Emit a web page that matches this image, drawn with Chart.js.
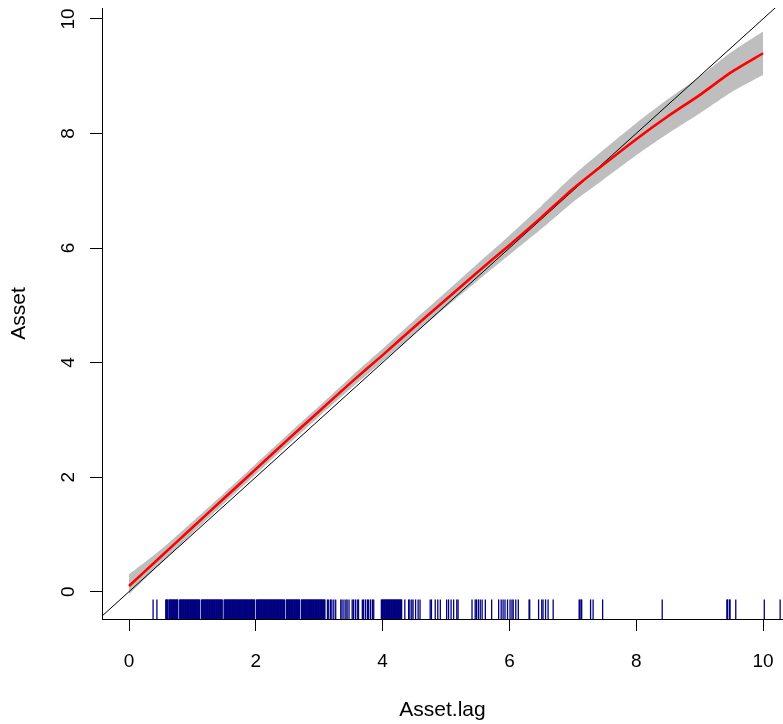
<!DOCTYPE html>
<html>
<head>
<meta charset="utf-8">
<script src="https://cdn.jsdelivr.net/npm/chart.js@4.4.1/dist/chart.umd.min.js"></script>
<style>
  html, body { margin: 0; padding: 0; background: #fff; }
  canvas { display: block; }
</style>
</head>
<body>
<canvas id="chart" width="783" height="724"></canvas>
<script>
// smooth fit of Asset against Asset.lag, with its confidence band
const fitX = [0, 0.5, 1, 1.5, 2, 2.5, 3, 3.5, 4, 4.5, 5, 5.5, 6, 6.5, 7, 7.5, 8, 8.5, 9, 9.5, 10];
const fitY = [0.10, 0.61, 1.12, 1.63, 2.14, 2.65, 3.15, 3.65, 4.13, 4.62, 5.10, 5.58, 6.05, 6.53, 7.03, 7.47, 7.90, 8.30, 8.67, 9.07, 9.40];
const bandUpper = [0.30, 0.73, 1.22, 1.72, 2.23, 2.74, 3.24, 3.75, 4.24, 4.74, 5.23, 5.73, 6.22, 6.73, 7.26, 7.73, 8.18, 8.60, 8.99, 9.42, 9.78];
const bandLower = [-0.05, 0.49, 1.02, 1.54, 2.05, 2.56, 3.06, 3.55, 4.02, 4.50, 4.97, 5.43, 5.88, 6.33, 6.80, 7.21, 7.62, 8.00, 8.35, 8.72, 9.02];

// reference line y = x
const ablineX = [-0.5, 10.5];
const ablineY = [-0.5, 10.5];

// rug of observed Asset.lag values
const rugX = [
  0.38, 0.44,
  0.58, 0.59, 0.60, 0.61, 0.63, 0.64, 0.65, 0.66, 0.67, 0.68, 0.69, 0.70, 0.71, 0.72, 0.73, 0.74, 0.75, 0.76, 0.77,
  0.80, 0.81, 0.82, 0.83, 0.84, 0.85, 0.86, 0.87, 0.88, 0.89, 0.90, 0.91, 0.92, 0.93, 0.94, 0.95, 0.96, 0.97, 0.98, 0.99,
  1.00, 1.01, 1.02, 1.03, 1.04, 1.05, 1.06, 1.07, 1.08, 1.09, 1.10, 1.11, 1.14, 1.15, 1.16, 1.17, 1.18, 1.19,
  1.20, 1.21, 1.22, 1.23, 1.24, 1.25, 1.26, 1.27, 1.28, 1.29, 1.30, 1.31, 1.32, 1.33, 1.34, 1.35, 1.36, 1.37, 1.38, 1.39,
  1.40, 1.41, 1.42, 1.43, 1.44, 1.45, 1.46, 1.47, 1.50, 1.51, 1.52, 1.53, 1.54, 1.55, 1.56, 1.57, 1.58, 1.59,
  1.60, 1.61, 1.62, 1.63, 1.64, 1.65, 1.66, 1.67, 1.68, 1.69, 1.70, 1.71, 1.72, 1.73, 1.74, 1.75, 1.76, 1.77, 1.78, 1.79,
  1.80, 1.81, 1.82, 1.83, 1.84, 1.85, 1.86, 1.87, 1.88, 1.89, 1.90, 1.91, 1.92, 1.93, 1.94, 1.95, 1.96, 1.97, 1.98,
  2.01, 2.02, 2.03, 2.04, 2.05, 2.06, 2.07, 2.08, 2.09, 2.10, 2.11, 2.12, 2.13, 2.14, 2.15, 2.16, 2.17, 2.18, 2.19,
  2.20, 2.21, 2.22, 2.23, 2.24, 2.25, 2.26, 2.27, 2.28, 2.29, 2.30, 2.31, 2.32, 2.33, 2.34, 2.35, 2.36, 2.37, 2.38, 2.39,
  2.40, 2.41, 2.42, 2.43, 2.44, 2.45, 2.48, 2.49, 2.50, 2.51, 2.52, 2.53, 2.54, 2.55, 2.56, 2.57, 2.58, 2.59,
  2.60, 2.61, 2.62, 2.63, 2.64, 2.65, 2.66, 2.67, 2.68, 2.69, 2.72, 2.73, 2.74, 2.75, 2.76, 2.77, 2.78, 2.79,
  2.80, 2.81, 2.82, 2.83, 2.84, 2.85, 2.86, 2.87, 2.88, 2.89, 2.90, 2.91, 2.92, 2.93, 2.94, 2.95, 2.96, 2.97, 2.98, 2.99,
  3.00, 3.01, 3.02, 3.03, 3.04, 3.05, 3.06, 3.07, 3.08, 3.09,
  3.13, 3.15, 3.18, 3.20, 3.23, 3.26, 3.34, 3.36, 3.39, 3.42, 3.44, 3.47, 3.52, 3.54, 3.57, 3.60, 3.62,
  3.68, 3.70, 3.73, 3.76, 3.78, 3.81, 3.84, 3.86,
  3.98, 3.99, 4.00, 4.01, 4.02, 4.03, 4.04, 4.05, 4.06, 4.07, 4.08, 4.09, 4.10, 4.11, 4.12, 4.13, 4.14, 4.15, 4.16,
  4.17, 4.18, 4.19, 4.20, 4.21, 4.22, 4.23, 4.24, 4.25, 4.26, 4.27, 4.28, 4.29, 4.30,
  4.35, 4.41, 4.43, 4.46, 4.48, 4.52, 4.56, 4.59, 4.75, 4.77, 4.83, 4.87, 4.91, 5.01, 5.04, 5.08, 5.12, 5.17, 5.19,
  5.41, 5.46, 5.48, 5.51, 5.54, 5.57, 5.62, 5.72, 5.83, 5.87, 5.90, 5.93, 5.97, 6.01, 6.04, 6.06, 6.10, 6.14,
  6.31, 6.32, 6.46, 6.51, 6.53, 6.57, 6.61, 6.69, 7.10, 7.11, 7.13, 7.14, 7.28, 7.32, 7.47, 8.41,
  9.43, 9.44, 9.47, 9.48, 9.57, 10.02, 10.27
];
const rugLevel = -0.306;

const xTickValues = [0, 2, 4, 6, 8, 10];
const yTickValues = [0, 2, 4, 6, 8, 10];

const FONT = '"Liberation Sans", Arial, Helvetica, sans-serif';

function pairs(xs, ys) {
  return xs.map((x, i) => ({ x: x, y: ys[i] }));
}

// y tick labels in R are drawn parallel to the axis
const yTickLabels = {
  id: 'yTickLabels',
  afterDraw(chart) {
    const ys = chart.scales.y;
    const ctx = chart.ctx;
    ctx.save();
    ctx.font = '19px ' + FONT;
    ctx.fillStyle = '#000';
    ctx.textAlign = 'center';
    ctx.textBaseline = 'middle';
    ys.ticks.forEach(t => {
      ctx.save();
      ctx.translate(ys.right - 33.5, ys.getPixelForValue(t.value));
      ctx.rotate(-Math.PI / 2);
      ctx.fillText(String(t.value), 0, 0);
      ctx.restore();
    });
    ctx.restore();
  }
};

new Chart(document.getElementById('chart').getContext('2d'), {
  type: 'scatter',
  data: {
    datasets: [
      {
        label: 'fit',
        data: pairs(fitX, fitY),
        showLine: true,
        borderColor: '#ff0000',
        borderWidth: 2.6,
        pointRadius: 0,
        tension: 0.2,
        order: 0
      },
      {
        label: 'y = x',
        data: pairs(ablineX, ablineY),
        showLine: true,
        borderColor: '#000000',
        borderWidth: 1,
        pointRadius: 0,
        order: 1
      },
      {
        label: 'rug',
        data: rugX.map(x => ({ x: x, y: rugLevel })),
        pointStyle: 'line',
        rotation: 90,
        pointRadius: 9.8,
        pointHoverRadius: 9.8,
        borderColor: '#000080',
        borderWidth: 1.3,
        order: 2
      },
      {
        label: 'upper',
        data: pairs(fitX, bandUpper),
        showLine: true,
        borderWidth: 0,
        borderColor: 'rgba(0,0,0,0)',
        backgroundColor: '#bebebe',
        pointRadius: 0,
        tension: 0.2,
        fill: '+1',
        order: 3
      },
      {
        label: 'lower',
        data: pairs(fitX, bandLower),
        showLine: true,
        borderWidth: 0,
        borderColor: 'rgba(0,0,0,0)',
        pointRadius: 0,
        tension: 0.2,
        fill: false,
        order: 4
      }
    ]
  },
  options: {
    responsive: false,
    devicePixelRatio: 1,
    animation: false,
    events: [],
    layout: { autoPadding: false, padding: { top: 8, right: 0, left: 0, bottom: 0 } },
    plugins: {
      legend: { display: false },
      tooltip: { enabled: false }
    },
    scales: {
      x: {
        type: 'linear',
        position: 'bottom',
        min: -0.426,
        max: 10.315,
        afterBuildTicks: s => { s.ticks = xTickValues.map(v => ({ value: v })); },
        afterFit: s => { s.height = 105; s.paddingLeft = 0; s.paddingRight = 0; },
        grid: { drawOnChartArea: false, drawTicks: true, tickLength: 12, color: '#000', lineWidth: 1 },
        border: { display: true, color: '#000', width: 1 },
        ticks: {
          color: '#000',
          padding: 19,
          maxRotation: 0,
          autoSkip: false,
          font: { family: FONT, size: 19 }
        },
        title: {
          display: true,
          text: 'Asset.lag',
          color: '#000',
          font: { family: FONT, size: 21 },
          padding: { top: 0, bottom: 1 }
        }
      },
      y: {
        type: 'linear',
        position: 'left',
        min: -0.477,
        max: 10.19,
        afterBuildTicks: s => { s.ticks = yTickValues.map(v => ({ value: v })); },
        afterFit: s => { s.width = 102; s.paddingTop = 0; s.paddingBottom = 0; },
        grid: { drawOnChartArea: false, drawTicks: true, tickLength: 12, color: '#000', lineWidth: 1 },
        border: { display: true, color: '#000', width: 1 },
        ticks: { display: false },
        title: {
          display: true,
          text: 'Asset',
          color: '#000',
          font: { family: FONT, size: 21 },
          padding: { top: 7, bottom: 0 }
        }
      }
    }
  },
  plugins: [yTickLabels]
});
</script>
</body>
</html>
